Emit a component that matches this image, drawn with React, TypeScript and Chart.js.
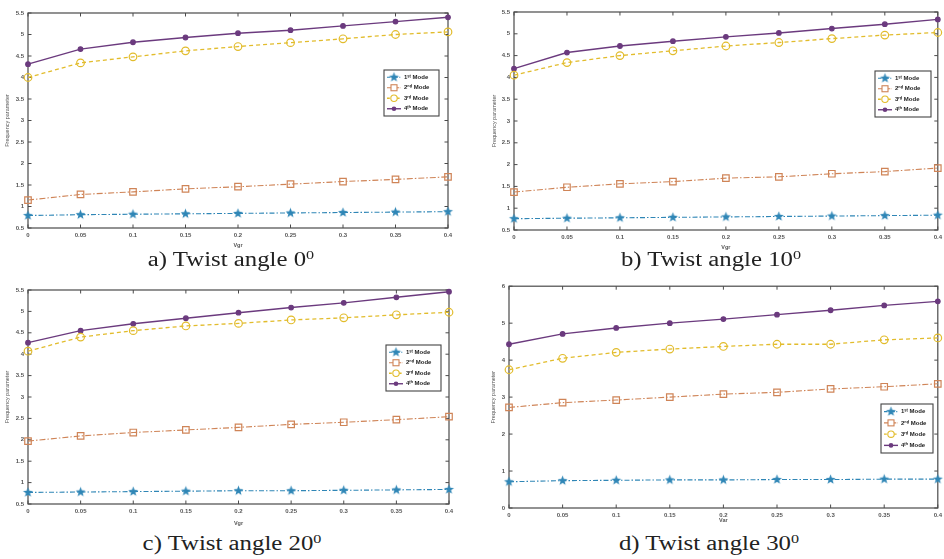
import React, { useEffect, useRef } from "react";
import { Chart, registerables } from "chart.js";

Chart.register(...registerables);

// ---------------- data ----------------
const vgrTicks = ["0", "0.05", "0.1", "0.15", "0.2", "0.25", "0.3", "0.35", "0.4"];
const modeLabels = ["1ˢᵗ Mode", "2ⁿᵈ Mode", "3ʳᵈ Mode", "4ᵗʰ Mode"];

const twist0Mode1 = [0.79, 0.81, 0.82, 0.83, 0.84, 0.85, 0.86, 0.87, 0.88];
const twist0Mode2 = [1.15, 1.28, 1.34, 1.41, 1.46, 1.52, 1.58, 1.63, 1.69];
const twist0Mode3 = [4.0, 4.34, 4.48, 4.62, 4.72, 4.81, 4.9, 5.0, 5.06];
const twist0Mode4 = [4.31, 4.66, 4.82, 4.93, 5.03, 5.1, 5.2, 5.3, 5.4];

const twist10Mode1 = [0.76, 0.77, 0.78, 0.79, 0.8, 0.81, 0.82, 0.83, 0.84];
const twist10Mode2 = [1.37, 1.48, 1.56, 1.61, 1.69, 1.72, 1.79, 1.84, 1.92];
const twist10Mode3 = [4.05, 4.34, 4.5, 4.61, 4.72, 4.8, 4.89, 4.97, 5.03];
const twist10Mode4 = [4.2, 4.57, 4.72, 4.83, 4.93, 5.02, 5.12, 5.22, 5.33];

const twist20Mode1 = [0.77, 0.78, 0.79, 0.8, 0.81, 0.81, 0.82, 0.83, 0.84];
const twist20Mode2 = [1.97, 2.09, 2.17, 2.23, 2.29, 2.36, 2.41, 2.47, 2.54];
const twist20Mode3 = [4.07, 4.4, 4.55, 4.66, 4.72, 4.8, 4.85, 4.92, 4.98];
const twist20Mode4 = [4.27, 4.55, 4.71, 4.84, 4.97, 5.09, 5.2, 5.33, 5.46];

const twist30Mode1 = [0.71, 0.74, 0.75, 0.76, 0.76, 0.77, 0.77, 0.78, 0.78];
const twist30Mode2 = [2.72, 2.85, 2.92, 3.0, 3.08, 3.13, 3.22, 3.28, 3.36];
const twist30Mode3 = [3.74, 4.05, 4.21, 4.3, 4.37, 4.43, 4.43, 4.55, 4.6];
const twist30Mode4 = [4.43, 4.71, 4.87, 5.0, 5.11, 5.23, 5.35, 5.48, 5.59];

const yTitle = "Frequency parameter";

// ---------------- styles ----------------
const modeStyles = [
  { color: "#2f86b6", dash: [5, 2, 1.5, 2], marker: "star", width: 1.1 },
  { color: "#cf8457", dash: [6, 2, 1.5, 2], marker: "square", width: 1.1 },
  { color: "#e2bc2c", dash: [4, 3], marker: "circle", width: 1.3 },
  { color: "#6b3a7e", dash: [], marker: "dot", width: 1.4 },
];

type Panel = {
  left: number; top: number; width: number; height: number;
  yW: number; xH: number; padTop: number; padRight: number;
  yMin: number; yMax: number; yStep: number;
  yTitlePad: number; xTitlePad: number; xTitle: string;
  legend: { x: number; y: number; w: number; h: number };
  series: number[][];
  caption: string; capCx: number; capBase: number;
};

const panels: Panel[] = [
  {
    left: 0, top: 0, width: 470, height: 250, yW: 28, xH: 22, padTop: 13, padRight: 22,
    yMin: 0.5, yMax: 5.5, yStep: 0.5, yTitlePad: 4, xTitlePad: 1, xTitle: "Vgr",
    legend: { x: 384, y: 70, w: 55, h: 46 },
    series: [twist0Mode1, twist0Mode2, twist0Mode3, twist0Mode4],
    caption: "a) Twist angle 0", capCx: 231, capBase: 266,
  },
  {
    left: 480, top: 0, width: 464, height: 252, yW: 34, xH: 22, padTop: 12, padRight: 5,
    yMin: 0.5, yMax: 5.5, yStep: 0.5, yTitlePad: 11, xTitlePad: 1, xTitle: "Vgr",
    legend: { x: 395, y: 71, w: 56, h: 46 },
    series: [twist10Mode1, twist10Mode2, twist10Mode3, twist10Mode4],
    caption: "b) Twist angle 10", capCx: 711, capBase: 266,
  },
  {
    left: 0, top: 280, width: 470, height: 248, yW: 28, xH: 24, padTop: 10, padRight: 21,
    yMin: 0.5, yMax: 5.5, yStep: 0.5, yTitlePad: 4, xTitlePad: 1, xTitle: "Vgr",
    legend: { x: 386, y: 65, w: 55, h: 46 },
    series: [twist20Mode1, twist20Mode2, twist20Mode3, twist20Mode4],
    caption: "c) Twist angle 20", capCx: 232, capBase: 550,
  },
  {
    left: 480, top: 280, width: 464, height: 246, yW: 29, xH: 18, padTop: 6, padRight: 1,
    yMin: 0, yMax: 6, yStep: 1, yTitlePad: 10, xTitlePad: 2, xTitle: "Var",
    legend: { x: 401, y: 124, w: 52, h: 49 },
    series: [twist30Mode1, twist30Mode2, twist30Mode3, twist30Mode4],
    caption: "d) Twist angle 30", capCx: 709, capBase: 550,
  },
];

function makeStar(color: string, r: number): HTMLCanvasElement {
  const c = document.createElement("canvas");
  const s = Math.ceil(r * 2 + 2);
  c.width = s; c.height = s;
  const g = c.getContext("2d")!;
  const cx = s / 2, cy = s / 2, ri = r * 0.42;
  g.beginPath();
  for (let i = 0; i < 10; i++) {
    const a = -Math.PI / 2 + (i * Math.PI) / 5;
    const rr = i % 2 === 0 ? r : ri;
    const x = cx + rr * Math.cos(a), y = cy + rr * Math.sin(a);
    if (i === 0) g.moveTo(x, y); else g.lineTo(x, y);
  }
  g.closePath();
  g.fillStyle = color;
  g.fill();
  return c;
}

function drawMarker(ctx: CanvasRenderingContext2D, kind: string, x: number, y: number, color: string, star: HTMLCanvasElement) {
  ctx.save();
  ctx.setLineDash([]);
  ctx.lineWidth = 1.1;
  if (kind === "star") {
    ctx.drawImage(star, x - star.width / 2, y - star.height / 2);
  } else if (kind === "square") {
    ctx.strokeStyle = color;
    ctx.fillStyle = "#fff";
    ctx.fillRect(x - 3, y - 3, 6, 6);
    ctx.strokeRect(x - 3, y - 3, 6, 6);
  } else if (kind === "circle") {
    ctx.strokeStyle = color;
    ctx.fillStyle = "#fff";
    ctx.beginPath(); ctx.arc(x, y, 3.2, 0, Math.PI * 2); ctx.fill(); ctx.stroke();
  } else {
    ctx.fillStyle = color;
    ctx.beginPath(); ctx.arc(x, y, 2.3, 0, Math.PI * 2); ctx.fill();
  }
  ctx.restore();
}

const boxPlugin = {
  id: "matlabBox",
  beforeDatasetsDraw(chart: any) {
    const { ctx, chartArea: ca, scales } = chart;
    ctx.save();
    ctx.strokeStyle = "#4a4a4a";
    ctx.lineWidth = 1.2;
    ctx.strokeRect(ca.left, ca.top, ca.right - ca.left, ca.bottom - ca.top);
    ctx.lineWidth = 1;
    const tl = 3.5;
    const xs = scales.x;
    xs.ticks.forEach((_: any, i: number) => {
      const px = xs.getPixelForTick(i);
      ctx.beginPath();
      ctx.moveTo(px, ca.bottom); ctx.lineTo(px, ca.bottom - tl);
      ctx.moveTo(px, ca.top); ctx.lineTo(px, ca.top + tl);
      ctx.stroke();
    });
    const ys = scales.y;
    ys.ticks.forEach((_: any, i: number) => {
      const py = ys.getPixelForTick(i);
      ctx.beginPath();
      ctx.moveTo(ca.left, py); ctx.lineTo(ca.left + tl, py);
      ctx.moveTo(ca.right, py); ctx.lineTo(ca.right - tl, py);
      ctx.stroke();
    });
    ctx.restore();
  },
  afterDraw(chart: any, _args: any, opts: any) {
    const lg = opts.box;
    if (!lg) return;
    const star = opts.star as HTMLCanvasElement;
    const { ctx } = chart;
    ctx.save();
    ctx.fillStyle = "#ffffff";
    ctx.fillRect(lg.x, lg.y, lg.w, lg.h);
    ctx.strokeStyle = "#444";
    ctx.lineWidth = 1.1;
    ctx.strokeRect(lg.x, lg.y, lg.w, lg.h);
    const rowH = (lg.h - 4) / 4;
    modeStyles.forEach((st, i) => {
      const cy = lg.y + 2 + rowH * (i + 0.5);
      ctx.strokeStyle = st.color;
      ctx.lineWidth = st.width;
      ctx.setLineDash(st.dash.map((d) => d * 0.7));
      ctx.beginPath();
      ctx.moveTo(lg.x + 3, cy); ctx.lineTo(lg.x + 17, cy);
      ctx.stroke();
      drawMarker(ctx, st.marker, lg.x + 10, cy, st.color, star);
      ctx.setLineDash([]);
      ctx.fillStyle = "#222";
      ctx.font = "bold 6px 'Liberation Sans', Arial, sans-serif";
      ctx.textBaseline = "middle";
      ctx.textAlign = "left";
      ctx.fillText(modeLabels[i], lg.x + 20, cy);
    });
    ctx.restore();
  },
};

function PanelChart({ p }: { p: Panel }) {
  const ref = useRef<HTMLCanvasElement | null>(null);
  useEffect(() => {
    if (!ref.current) return;
    const star = makeStar(modeStyles[0].color, 5.2);
    const tickFont = { family: "'Liberation Sans', Arial, sans-serif", size: 6, weight: "bold" as const };
    const chart = new Chart(ref.current, {
      type: "line",
      data: {
        labels: vgrTicks,
        datasets: p.series.map((vals, i) => {
          const st = modeStyles[i];
          let pointStyle: any = "circle";
          let radius = 2.3;
          let bg = st.color;
          if (st.marker === "star") { pointStyle = star; radius = 5; }
          else if (st.marker === "square") { pointStyle = "rect"; radius = 4.6; bg = "rgba(255,255,255,0)"; }
          else if (st.marker === "circle") { pointStyle = "circle"; radius = 3.8; bg = "rgba(255,255,255,0)"; }
          return {
            label: modeLabels[i],
            data: vals,
            borderColor: st.color,
            borderWidth: st.width,
            borderDash: st.dash,
            backgroundColor: st.color,
            pointStyle,
            pointRadius: radius,
            pointBackgroundColor: bg,
            pointBorderColor: st.color,
            pointBorderWidth: 1.2,
            fill: false,
            tension: 0,
            clip: false as any,
          };
        }),
      },
      options: {
        animation: false,
        responsive: false,
        devicePixelRatio: 1,
        layout: { padding: { left: 0, top: p.padTop, right: p.padRight, bottom: 0 } },
        plugins: {
          legend: { display: false },
          tooltip: { enabled: false },
          matlabBox: { box: p.legend, star },
        } as any,
        scales: {
          x: {
            type: "category",
            offset: false,
            grid: { display: false, drawTicks: false },
            border: { display: false },
            ticks: { font: tickFont, color: "#555", padding: 4, maxRotation: 0, autoSkip: false },
            title: { display: true, text: p.xTitle, font: { ...tickFont, size: 5.5 }, color: "#555", padding: { top: 0, bottom: p.xTitlePad } },
            afterFit: (s: any) => { s.height = p.xH; s.paddingLeft = 0; s.paddingRight = 0; },
          },
          y: {
            type: "linear",
            min: p.yMin,
            max: p.yMax,
            grid: { display: false, drawTicks: false },
            border: { display: false },
            ticks: { stepSize: p.yStep, font: tickFont, color: "#555", padding: 4, callback: (v: any) => String(Number(v)) },
            title: { display: true, text: yTitle, font: { ...tickFont, size: 5.5, weight: "normal" }, color: "#555", padding: { top: p.yTitlePad, bottom: 0 } },
            afterFit: (s: any) => { s.width = p.yW; s.paddingTop = 0; s.paddingBottom = 0; },
          },
        },
      },
      plugins: [boxPlugin],
    });
    return () => chart.destroy();
  }, [p]);
  return (
    <canvas
      ref={ref}
      width={p.width}
      height={p.height}
      style={{ position: "absolute", left: p.left, top: p.top, width: p.width, height: p.height }}
    />
  );
}

export default function App() {
  return (
    <div style={{ position: "absolute", left: 0, top: 0, width: 944, height: 559, background: "#fff", overflow: "hidden" }}>
      {panels.map((p, i) => (
        <PanelChart key={i} p={p} />
      ))}
      {panels.map((p, i) => (
        <div
          key={"c" + i}
          style={{
            position: "absolute",
            left: p.capCx - 150,
            width: 300,
            top: p.capBase - 17,
            textAlign: "center",
            fontFamily: "'Liberation Serif', 'Times New Roman', serif",
            fontSize: 20,
            lineHeight: "20px",
            color: "#222",
            whiteSpace: "nowrap",
            transform: "scaleX(1.24)",
            transformOrigin: "center",
          }}
        >
          {p.caption}
          <sup style={{ fontSize: 13, lineHeight: 0, verticalAlign: "0.55em" }}>0</sup>
        </div>
      ))}
    </div>
  );
}
